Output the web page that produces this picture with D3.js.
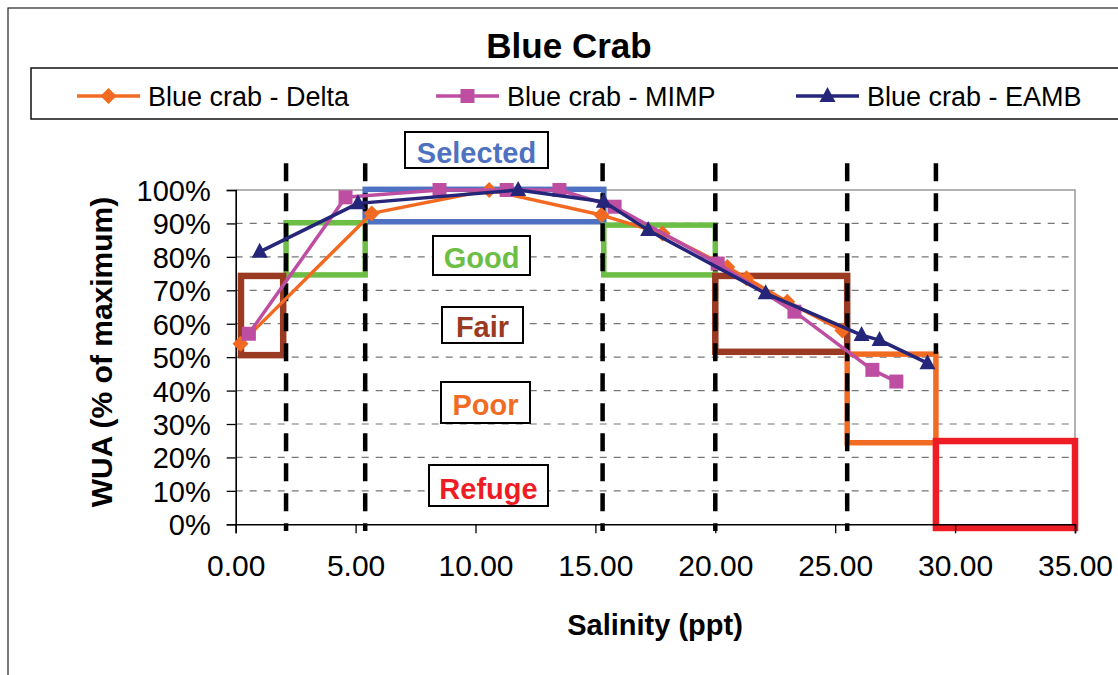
<!DOCTYPE html>
<html><head><meta charset="utf-8">
<script src="https://cdn.jsdelivr.net/npm/d3@7"></script>
<style>
html,body{margin:0;padding:0;background:#fff;}
text{font-family:"Liberation Sans",Arial,Helvetica,sans-serif;}
</style></head>
<body>
<svg id="chart" width="1118" height="675"></svg>
<script>
// ---------------- DATA ----------------
const chartTitle = "Blue Crab";
const seriesNames = ["Blue crab - Delta", "Blue crab - MIMP", "Blue crab - EAMB"];
const xTickValues = [0, 5, 10, 15, 20, 25, 30, 35];
const yTickValues = [0, 10, 20, 30, 40, 50, 60, 70, 80, 90, 100];

const deltaSalinity = [0.2, 5.67, 10.57, 15.25, 17.8, 20.5, 21.3, 23.0, 25.3];
const deltaWUA      = [54, 93, 100, 92.5, 87, 77, 73.6, 66.6, 58];

const mimpSalinity  = [0.55, 4.58, 8.5, 11.3, 13.5, 15.8, 20.1, 23.3, 26.55, 27.55];
const mimpWUA       = [57, 97.8, 100, 100, 100, 95, 78, 63.6, 46.2, 42.7];

const eambSalinity  = [1.0, 5.1, 11.78, 15.35, 17.2, 22.1, 26.1, 26.85, 28.85];
const eambWUA       = [81.5, 96, 100, 96.5, 88, 69.1, 56.6, 55.1, 48.2];

// habitat class boxes: [salinity from, salinity to, WUA low, WUA high]
const habitatNames  = ["Selected", "Good", "Good", "Fair", "Fair", "Poor", "Refuge"];
const habitatSalLo  = [5.4, 2.1, 15.35, 0.22, 20.0, 25.5, 29.2];
const habitatSalHi  = [15.35, 5.4, 20.0, 1.98, 25.5, 29.2, 35.0];
const habitatWuaLo  = [90.5, 74.6, 74.6, 50.6, 51.6, 24.4, -1.1];
const habitatWuaHi  = [100.2, 90.2, 89.5, 74.3, 74.3, 50.9, 24.9];

// vertical salinity class boundaries (dashed)
const boundarySalinity = [2.1, 5.4, 15.3, 20.0, 25.5, 29.2];
const boundaryTop      = [108, 108, 108, 108, 108, 108];
const boundaryBottom   = [-2, -2, -2, -2, -2, 51];

// label boxes text
const labelNames = ["Selected", "Good", "Fair", "Poor", "Refuge"];

// ---------------- STYLE ----------------
const seriesColors = ["#F26A22", "#BD4EA2", "#25267A"];
const habitatColor = {Selected:"#4E71C1", Good:"#6CBE45", Fair:"#9B3A22", Poor:"#F26B23", Refuge:"#EE1D25"};
const labelBoxes = { // pixel layout of the annotation boxes
  Selected:[405,132,143,36], Good:[433,236,97,39], Fair:[442,307,81,36], Poor:[441,382,89,41], Refuge:[429,465,119,41]
};

const svg = d3.select("#chart");
const x = d3.scaleLinear().domain([0, 35]).range([235.7, 1075]);
const y = d3.scaleLinear().domain([0, 100]).range([524.3, 190]);

// outer border
svg.append("rect").attr("x",8).attr("y",8).attr("width",1130).attr("height",700)
  .attr("fill","none").attr("stroke","#222").attr("stroke-width",1.2);

// title
svg.append("text").attr("x",569).attr("y",58).attr("text-anchor","middle")
  .attr("font-size",35).attr("font-weight","bold").attr("fill","#000").text(chartTitle);

// legend box
svg.append("rect").attr("x",31).attr("y",68).attr("width",1110).attr("height",51)
  .attr("fill","#fff").attr("stroke","#111").attr("stroke-width",1.5);

const markerPath = [
  "M0,-8L8,0L0,8L-8,0Z",
  "M-7,-7H7V7H-7Z",
  "M0,-9L8,6L-8,6Z"
];
const legendX = [77, 436, 796];
seriesNames.forEach((n,i)=>{
  const g = svg.append("g").attr("transform",`translate(${legendX[i]},96)`);
  g.append("line").attr("x1",0).attr("x2",63).attr("y1",0).attr("y2",0)
    .attr("stroke",seriesColors[i]).attr("stroke-width",3.5);
  g.append("path").attr("d",markerPath[i]).attr("transform","translate(31.5,0)").attr("fill",seriesColors[i]);
  g.append("text").attr("x",71).attr("y",10).attr("font-size",27).attr("fill","#000").text(n);
});

// plot area frame (top/right grey)
svg.append("path")
  .attr("d",`M${x(0)},${y(100)}H${x(35)}V${y(0)}`)
  .attr("fill","none").attr("stroke","#999").attr("stroke-width",1.5);

// horizontal gridlines
svg.append("g").selectAll("line").data(yTickValues.filter(v=>v>0 && v<100)).join("line")
  .attr("x1",x(0)).attr("x2",x(35)).attr("y1",d=>y(d)).attr("y2",d=>y(d))
  .attr("stroke","#777").attr("stroke-width",1.2).attr("stroke-dasharray","7,7");

// habitat boxes
svg.append("g").selectAll("rect").data(habitatNames.map((n,i)=>({n,i}))).join("rect")
  .attr("x",d=>x(habitatSalLo[d.i])).attr("width",d=>x(habitatSalHi[d.i])-x(habitatSalLo[d.i]))
  .attr("y",d=>y(habitatWuaHi[d.i])).attr("height",d=>y(habitatWuaLo[d.i])-y(habitatWuaHi[d.i]))
  .attr("fill","none").attr("stroke",d=>habitatColor[d.n]).attr("stroke-width",d=>(d.n==="Fair"||d.n==="Refuge")?6.5:5.5);

// dashed boundaries
svg.append("g").selectAll("line").data(boundarySalinity.map((s,i)=>({s,i}))).join("line")
  .attr("x1",d=>x(d.s)).attr("x2",d=>x(d.s))
  .attr("y1",d=>y(boundaryTop[d.i])).attr("y2",d=>y(boundaryBottom[d.i]))
  .attr("stroke","#000").attr("stroke-width",4.5).attr("stroke-dasharray","18,12");

// axes
const xAxis = d3.axisBottom(x).tickValues(xTickValues).tickSize(9).tickPadding(14)
  .tickFormat(d=>d3.format(".2f")(d));
const gx = svg.append("g").attr("transform",`translate(0,${y(0)})`).call(xAxis);
gx.select(".domain").attr("stroke","#000").attr("stroke-width",1.6);
gx.selectAll(".tick line").attr("stroke","#000").attr("stroke-width",1.3);
gx.selectAll(".tick text").attr("font-size",30).attr("fill","#000")
  .attr("font-family",'"Liberation Sans",Arial,sans-serif').attr("dy","0.95em");

const yAxis = d3.axisLeft(y).tickValues(yTickValues).tickSize(9).tickPadding(16)
  .tickFormat(d=>d+"%");
const gy = svg.append("g").attr("transform",`translate(${x(0)},0)`).call(yAxis);
gy.select(".domain").attr("stroke","#000").attr("stroke-width",1.6);
gy.selectAll(".tick line").attr("stroke","#000").attr("stroke-width",1.3);
gy.selectAll(".tick text").attr("font-size",29).attr("fill","#000")
  .attr("font-family",'"Liberation Sans",Arial,sans-serif').attr("dy","0.36em");

// axis titles
svg.append("text").attr("x",655).attr("y",635).attr("text-anchor","middle")
  .attr("font-size",29).attr("font-weight","bold").text("Salinity (ppt)");
svg.append("text").attr("transform","translate(112,352) rotate(-90)").attr("text-anchor","middle")
  .attr("font-size",30).attr("font-weight","bold").text("WUA (% of maximum)");

// series
const allSeries = [
  deltaSalinity.map((s,i)=>[s,deltaWUA[i]]),
  mimpSalinity.map((s,i)=>[s,mimpWUA[i]]),
  eambSalinity.map((s,i)=>[s,eambWUA[i]])
];
const line = d3.line().x(d=>x(d[0])).y(d=>y(d[1]));
allSeries.forEach((pts,i)=>{
  const g = svg.append("g");
  g.append("path").attr("d",line(pts)).attr("fill","none")
    .attr("stroke",seriesColors[i]).attr("stroke-width",3.5).attr("stroke-linejoin","round");
  g.selectAll("path.m").data(pts).join("path").attr("class","m")
    .attr("d",markerPath[i]).attr("transform",d=>`translate(${x(d[0])},${y(d[1])})`)
    .attr("fill",seriesColors[i]);
});

// annotation label boxes
const labelBaseline = {Selected:163, Good:268, Fair:337, Poor:415, Refuge:499};
labelNames.forEach(n=>{
  const b = labelBoxes[n];
  svg.append("rect").attr("x",b[0]).attr("y",b[1]).attr("width",b[2]).attr("height",b[3])
    .attr("fill","#fff").attr("stroke","#000").attr("stroke-width",2);
  svg.append("text").attr("x",b[0]+b[2]/2).attr("y",labelBaseline[n]).attr("text-anchor","middle")
    .attr("font-size",29).attr("font-weight","bold").attr("fill",habitatColor[n]).text(n);
});
</script>
</body></html>
